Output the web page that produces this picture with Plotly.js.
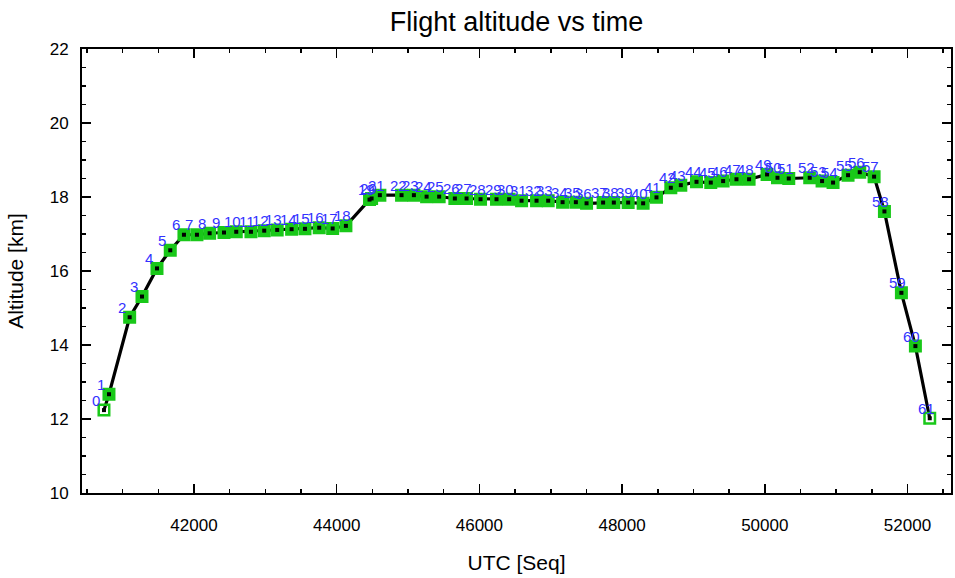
<!DOCTYPE html>
<html>
<head>
<meta charset="utf-8">
<script src="https://cdn.plot.ly/plotly-3.0.1.min.js"></script>
<style>html,body{margin:0;padding:0;background:#fff;}#chart{width:955px;height:578px;}</style>
</head>
<body>
<div id="chart"></div>
<script>
// UTC time of each flight point [s]
const utc = [40738, 40808, 41098, 41271, 41481, 41667, 41859, 42041, 42219, 42420,
             42592, 42798, 42984, 43166, 43368, 43555, 43755, 43943, 44129, 44460,
             44489, 44605, 44909, 45082, 45260, 45436, 45656, 45820, 46016, 46240,
             46417, 46591, 46801, 46964, 47166, 47352, 47502, 47734, 47884, 48085,
             48295, 48482, 48683, 48823, 49043, 49243, 49416, 49603, 49780, 50032,
             50178, 50336, 50630, 50803, 50957, 51167, 51331, 51532, 51677, 51915,
             52111, 52312];
// Altitude of each flight point [km]
const alt = [12.24, 12.67, 14.75, 15.31, 16.07, 16.56, 16.98, 16.98, 17.02, 17.04,
             17.06, 17.06, 17.09, 17.11, 17.13, 17.14, 17.17, 17.15, 17.22, 17.93,
             17.96, 18.05, 18.05, 18.05, 18.01, 18.01, 17.96, 17.96, 17.94, 17.94,
             17.94, 17.90, 17.90, 17.90, 17.86, 17.86, 17.83, 17.85, 17.85, 17.85,
             17.83, 17.99, 18.25, 18.32, 18.41, 18.39, 18.43, 18.48, 18.48, 18.61,
             18.52, 18.50, 18.52, 18.43, 18.39, 18.59, 18.67, 18.55, 17.61, 15.41,
             13.97, 12.02];
// Point labels (index numbers)
const ptLabels = utc.map((_, i) => String(i));
// Axis tick settings
const xMajor = 2000, xMinor = 500;
const yMajor = 2, yMinor = 0.5;

const FONT = 'Liberation Sans, Arial, Helvetica, sans-serif';
const last = utc.length - 1;
const symbols = utc.map((_, i) => (i === 0 || i === last) ? 'square-open' : 'square');

const traces = [
  {
    x: utc, y: alt, type: 'scatter', mode: 'lines+markers',
    line: {color: '#000000', width: 3.2},
    marker: {symbol: symbols, size: 10.5, color: '#19c819', line: {color: '#19c819', width: 2.5}},
    hoverinfo: 'x+y'
  },
  {
    x: utc, y: alt, type: 'scatter', mode: 'markers',
    marker: {symbol: 'square', size: 4, color: '#000000'},
    hoverinfo: 'skip'
  }
];

const annotations = utc.map((t, i) => ({
  x: t, y: alt[i], xref: 'x', yref: 'y', text: ptLabels[i], showarrow: false,
  xanchor: 'left', yanchor: 'middle', xshift: -14, yshift: 10,
  font: {family: FONT, size: 15, color: '#3232ff'}
}));

const axisCommon = {
  showgrid: false, zeroline: false, showline: true, linecolor: '#000', linewidth: 2,
  mirror: 'ticks', ticks: 'inside', tickcolor: '#000', tickwidth: 1.5, ticklen: 9,
  tickfont: {family: FONT, size: 17, color: '#000'}
};

const layout = {
  width: 955, height: 578,
  margin: {l: 82, r: 4, t: 49, b: 85},
  paper_bgcolor: '#fff', plot_bgcolor: '#fff',
  showlegend: false,
  title: {text: 'Flight altitude vs time', font: {family: FONT, size: 27, color: '#000'},
          x: 0.5, xanchor: 'center', xref: 'paper', y: 1 - 22/578, yref: 'container', yanchor: 'middle'},
  xaxis: Object.assign({}, axisCommon, {
    range: [40430, 52610], tick0: 0, dtick: xMajor, tickformat: 'd',
    ticklabelstandoff: 16,
    minor: {dtick: xMinor, ticks: 'inside', ticklen: 4, tickwidth: 1.5, tickcolor: '#000', showgrid: false},
    title: {text: 'UTC [Seq]', font: {family: FONT, size: 21, color: '#000'}, standoff: 21}
  }),
  yaxis: Object.assign({}, axisCommon, {
    range: [10, 22], tick0: 0, dtick: yMajor,
    ticklabelstandoff: 8,
    minor: {dtick: yMinor, ticks: 'inside', ticklen: 4, tickwidth: 1.5, tickcolor: '#000', showgrid: false},
    title: {text: 'Altitude [km]', font: {family: FONT, size: 21, color: '#000'}, standoff: 20}
  }),
  annotations: annotations
};

Plotly.newPlot('chart', traces, layout, {displayModeBar: false, staticPlot: true});
</script>
</body>
</html>
